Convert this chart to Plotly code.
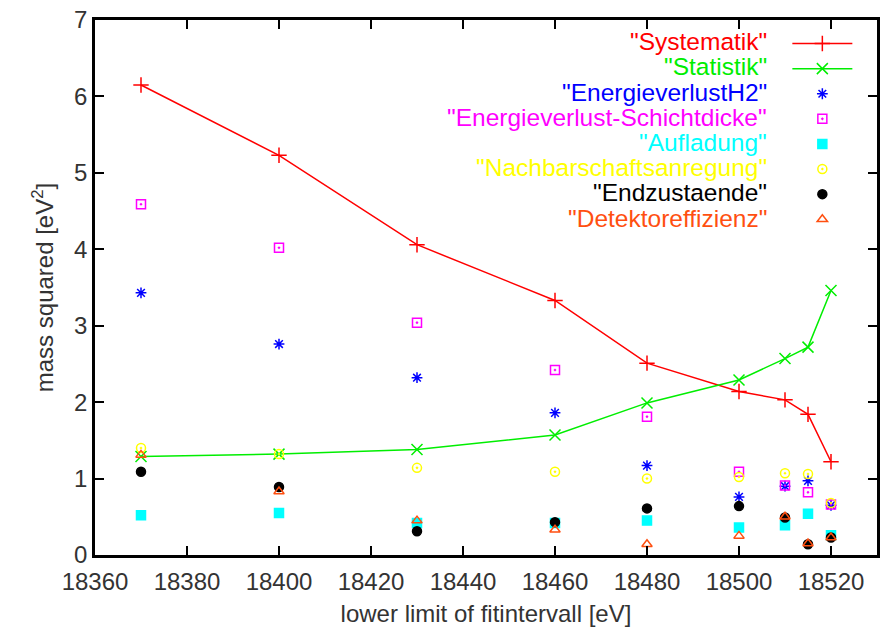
import plotly.graph_objects as go

x_vals = [18370, 18400, 18430, 18460, 18480, 18500, 18510, 18515, 18520]

systematik = [6.15, 5.23, 4.06, 3.33, 2.51, 2.14, 2.03, 1.84, 1.22]
statistik = [1.29, 1.32, 1.38, 1.57, 1.99, 2.29, 2.57, 2.72, 3.46]
energieverlust_h2 = [3.43, 2.76, 2.32, 1.86, 1.17, 0.76, 0.90, 0.97, 0.65]
schichtdicke = [4.59, 4.02, 3.04, 2.42, 1.81, 1.09, 0.91, 0.82, 0.66]
aufladung = [0.52, 0.55, 0.42, 0.42, 0.45, 0.36, 0.39, 0.54, 0.26]
nachbarschaft = [1.40, 1.32, 1.14, 1.09, 1.00, 1.02, 1.07, 1.06, 0.68]
endzustaende = [1.09, 0.89, 0.31, 0.43, 0.61, 0.64, 0.49, 0.14, 0.23]
detektor = [1.31, 0.83, 0.45, 0.33, 0.14, 0.25, 0.50, 0.15, 0.23]

series_names = ['"Systematik"', '"Statistik"', '"EnergieverlustH2"',
                '"Energieverlust-Schichtdicke"', '"Aufladung"',
                '"Nachbarschaftsanregung"', '"Endzustaende"', '"Detektoreffizienz"']
series_values = [systematik, statistik, energieverlust_h2, schichtdicke,
                 aufladung, nachbarschaft, endzustaende, detektor]
series_colors = ['#ff0000', '#00ee00', '#0000ff', '#ff00ff', '#00ffff',
                 '#ffff00', '#000000', '#ff4f10']
series_modes = ['lines+markers', 'lines+markers'] + ['markers'] * 6
series_symbols = ['cross-thin-open', 'x-thin-open', 'asterisk-open', 'square-open-dot',
                  'square', 'circle-open-dot', 'circle', 'triangle-up-open']
series_sizes = [11, 11, 9, 9, 9, 9, 9, 9]

x_ticks = [18360, 18380, 18400, 18420, 18440, 18460, 18480, 18500, 18520]
y_ticks = [0, 1, 2, 3, 4, 5, 6, 7]

fig = go.Figure()
for name, vals, col, mode, sym, sz in zip(series_names, series_values, series_colors,
                                           series_modes, series_symbols, series_sizes):
    fig.add_trace(go.Scatter(
        x=x_vals, y=vals, mode=mode, name=' ',
        line=dict(color=col, width=1.5),
        marker=dict(symbol=sym, size=sz, color=col,
                    line=dict(color=col, width=1.5)),
    ))

# plot area geometry in pixels (for placing legend text)
L, R, T, B = 95, 4, 20, 79
W, H = 884, 634
pw, ph = W - L - R, H - T - B
row_y = [41.7, 66.9, 92.1, 117.3, 142.5, 167.7, 192.9, 218.1]
text_right = 772

annotations = []
for name, col, yp in zip(series_names, series_colors, row_y):
    annotations.append(dict(
        text=name, x=(text_right - L) / pw, y=1 - (yp - T) / ph,
        xref='paper', yref='paper', xanchor='right', yanchor='middle',
        showarrow=False, font=dict(color=col, size=24.5,
                                   family='Liberation Sans, Arial, sans-serif')))

fig.update_layout(
    width=W, height=H,
    margin=dict(l=L, r=R, t=T, b=B),
    paper_bgcolor='white', plot_bgcolor='white',
    font=dict(family='Liberation Sans, Arial, sans-serif', size=24, color='#333333'),
    showlegend=True,
    legend=dict(x=(790 - L) / pw, y=1 - (26 - T) / ph, xanchor='left', yanchor='top',
                bgcolor='rgba(0,0,0,0)', font=dict(size=17), itemwidth=60,
                tracegroupgap=0),
    annotations=annotations,
)
fig.update_xaxes(
    range=[18360, 18530], tickvals=x_ticks, ticktext=[str(v) for v in x_ticks],
    ticks='inside', ticklen=9, tickwidth=2, tickcolor='black',
    showline=True, linecolor='black', linewidth=2.5, mirror='ticks',
    showgrid=False, zeroline=False, ticklabelstandoff=3,
    title=dict(text='lower limit of fitintervall [eV]', standoff=12,
               font=dict(size=24, color='#333333')),
)
fig.update_yaxes(
    range=[0, 7], tickvals=y_ticks, ticktext=[str(v) for v in y_ticks],
    ticks='inside', ticklen=9, tickwidth=2, tickcolor='black',
    showline=True, linecolor='black', linewidth=2.5, mirror='ticks',
    showgrid=False, zeroline=False,
    title=dict(text='mass squared [eV<sup>2</sup>]', standoff=14,
               font=dict(size=24, color='#333333')),
)

fig.write_html('out.html')
